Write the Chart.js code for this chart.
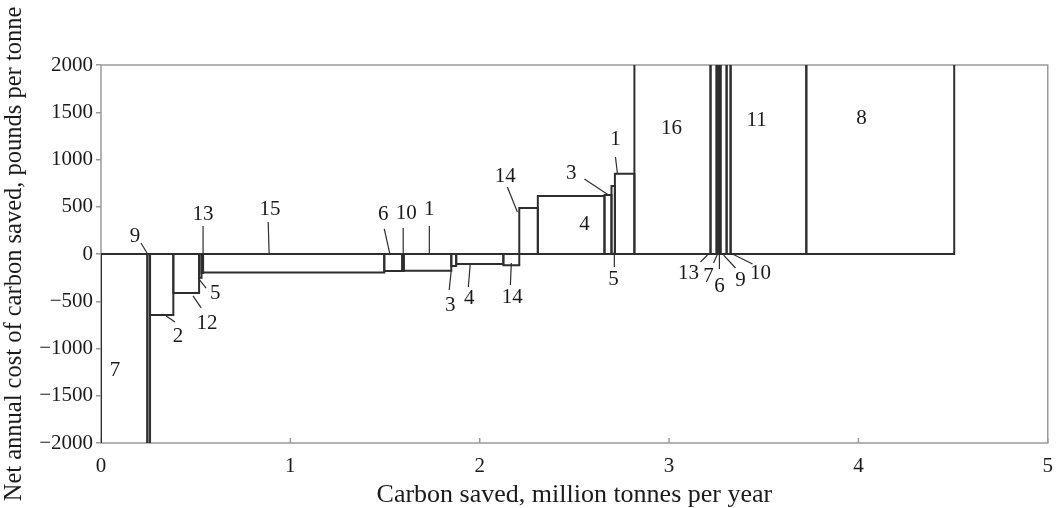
<!DOCTYPE html>
<html>
<head>
<meta charset="utf-8">
<script src="https://cdn.jsdelivr.net/npm/chart.js@4"></script>
<style>
  html, body { margin: 0; padding: 0; background: #fff; }
  #wrap { width: 1056px; height: 508px; }
</style>
</head>
<body>
<div id="wrap"><canvas id="mac-canvas"></canvas></div>
<script>
// measures in order along the curve
const categories = ["7", "9", "2", "12", "5", "13", "15", "6", "10", "1", "3", "4", "14",
  "14", "4", "3", "5", "1", "16", "13", "7", "6", "9", "10", "11", "8"]
// carbon saved by each measure, million tonnes per year
const widths = [0.245, 0.014, 0.123, 0.136, 0.013, 0.008, 0.957, 0.095, 0.008, 0.251, 0.026, 0.249, 0.084,
  0.098, 0.352, 0.037, 0.018, 0.103, 0.402, 0.032, 0.011, 0.010, 0.032, 0.021, 0.400, 0.781]
// net annual cost, pounds per tonne (values beyond +/-2000 run off the chart)
const costs = [-3000, -3000, -645, -413, -250, -200, -195, -180, -180, -178, -127, -106, -118,
  487, 614, 625, 720, 850, 3000, 3000, 3000, 3000, 3000, 3000, 3000, 3000]
const xTicks = [0, 1, 2, 3, 4, 5]
const yTicks = [-2000, -1500, -1000, -500, 0, 500, 1000, 1500, 2000]

// label text, position and leader line, in data units
const notes = [
  { t: "7", x: 0.074, y: -1228 },
  { t: "9", x: 0.180, y: 190, l: [0.211, 116, 0.243, 11] },
  { t: "2", x: 0.407, y: -868, l: [0.344, -656, 0.391, -720] },
  { t: "12", x: 0.560, y: -730, l: [0.486, -444, 0.529, -571] },
  { t: "5", x: 0.603, y: -413, l: [0.513, -254, 0.555, -360] },
  { t: "13", x: 0.539, y: 423, l: [0.539, 296, 0.539, 0] },
  { t: "15", x: 0.893, y: 476, l: [0.883, 339, 0.888, 0] },
  { t: "6", x: 1.490, y: 423, l: [1.496, 265, 1.527, -11] },
  { t: "10", x: 1.612, y: 434, l: [1.596, 275, 1.596, 0] },
  { t: "1", x: 1.734, y: 466, l: [1.734, 296, 1.734, 0] },
  { t: "3", x: 1.845, y: -540, l: [1.839, -381, 1.850, -169] },
  { t: "4", x: 1.945, y: -466, l: [1.940, -349, 1.950, -106] },
  { t: "14", x: 2.172, y: -455, l: [2.162, -328, 2.167, -95] },
  { t: "14", x: 2.135, y: 815, l: [2.146, 709, 2.199, 444] },
  { t: "4", x: 2.553, y: 317 },
  { t: "3", x: 2.484, y: 847, l: [2.553, 794, 2.680, 624] },
  { t: "5", x: 2.706, y: -265, l: [2.711, 21, 2.711, -138] },
  { t: "1", x: 2.717, y: 1217, l: [2.717, 1026, 2.727, 857] },
  { t: "16", x: 3.013, y: 1323 },
  { t: "11", x: 3.462, y: 1418 },
  { t: "8", x: 4.017, y: 1429 },
  { t: "13", x: 3.103, y: -201, l: [3.166, -85, 3.203, -11] },
  { t: "7", x: 3.208, y: -243, l: [3.235, -95, 3.256, 0] },
  { t: "6", x: 3.266, y: -339, l: [3.266, -159, 3.266, 0] },
  { t: "9", x: 3.377, y: -275, l: [3.351, -148, 3.288, -11] },
  { t: "10", x: 3.483, y: -201, l: [3.441, -106, 3.335, 0] },
]

const serif = "'Liberation Serif', 'Times New Roman', serif"
const ink = "#2e2e2e"
const frameGrey = "#9a9a9a"

// one closed outline per measure
let start = 0
const datasets = categories.map((c, i) => {
  const x0 = start
  const x1 = start + widths[i]
  start = x1
  return {
    label: c,
    data: [
      { x: x0, y: 0 }, { x: x0, y: costs[i] }, { x: x1, y: costs[i] }, { x: x1, y: 0 }, { x: x0, y: 0 },
    ],
    showLine: true,
    borderColor: ink,
    borderWidth: 2,
    pointRadius: 0,
    tension: 0,
    fill: false,
    clip: 0,
  }
})

const framePlugin = {
  id: "frame",
  beforeDatasetsDraw(chart) {
    const { ctx, chartArea: a, scales } = chart
    ctx.save()
    ctx.strokeStyle = frameGrey
    ctx.lineWidth = 1.5
    ctx.strokeRect(a.left, a.top, a.right - a.left, a.bottom - a.top)
    // small inward ticks on the x axis
    xTicks.forEach((v) => {
      const px = scales.x.getPixelForValue(v)
      ctx.beginPath()
      ctx.moveTo(px, a.bottom)
      ctx.lineTo(px, a.bottom - 5)
      ctx.stroke()
    })
    ctx.restore()
  },
  afterDatasetsDraw(chart) {
    const { ctx, scales } = chart
    const sx = (v) => scales.x.getPixelForValue(v)
    const sy = (v) => scales.y.getPixelForValue(v)
    ctx.save()
    ctx.font = "21px " + serif
    ctx.fillStyle = "#1a1a1a"
    ctx.strokeStyle = ink
    ctx.lineWidth = 1.2
    ctx.textAlign = "center"
    ctx.textBaseline = "middle"
    notes.forEach((n) => {
      ctx.fillText(n.t, sx(n.x), sy(n.y))
      if (n.l) {
        ctx.beginPath()
        ctx.moveTo(sx(n.l[0]), sy(n.l[1]))
        ctx.lineTo(sx(n.l[2]), sy(n.l[3]))
        ctx.stroke()
      }
    })
    ctx.restore()
  },
}

document.addEventListener("DOMContentLoaded", () => {
  const canvas = document.getElementById("mac-canvas")
  new Chart(canvas, {
    type: "scatter",
    data: { datasets },
    options: {
      responsive: true,
      maintainAspectRatio: false,
      animation: false,
      layout: { padding: { top: 65, right: 3, left: 0, bottom: 0 } },
      plugins: {
        legend: { display: false },
        tooltip: { enabled: false },
      },
      scales: {
        x: {
          type: "linear",
          min: 0,
          max: 5,
          afterBuildTicks: (s) => { s.ticks = xTicks.map((v) => ({ value: v })) },
          afterFit: (s) => { s.height = 65 },
          border: { display: false },
          grid: { display: false },
          ticks: {
            color: "#1a1a1a",
            font: { family: serif, size: 21 },
            padding: 3,
            maxRotation: 0,
          },
          title: {
            display: true,
            text: "Carbon saved, million tonnes per year",
            color: "#1a1a1a",
            font: { family: serif, size: 26 },
            padding: { top: 0, bottom: -3 },
          },
        },
        y: {
          type: "linear",
          min: -2000,
          max: 2000,
          afterBuildTicks: (s) => { s.ticks = yTicks.map((v) => ({ value: v })) },
          afterFit: (s) => { s.width = 101 },
          border: { display: false },
          grid: { drawOnChartArea: false, drawTicks: true, tickLength: 5, color: frameGrey, lineWidth: 1.5 },
          ticks: {
            color: "#1a1a1a",
            font: { family: serif, size: 21 },
            padding: 3,
            callback: (v) => (v < 0 ? "\u2212" + Math.abs(v) : String(v)),
          },
          title: {
            display: true,
            text: "Net annual cost of carbon saved, pounds per tonne",
            color: "#1a1a1a",
            font: { family: serif, size: 24.5 },
            padding: { top: 0, bottom: 0 },
          },
        },
      },
    },
    plugins: [framePlugin],
  })
})
</script>
</body>
</html>
